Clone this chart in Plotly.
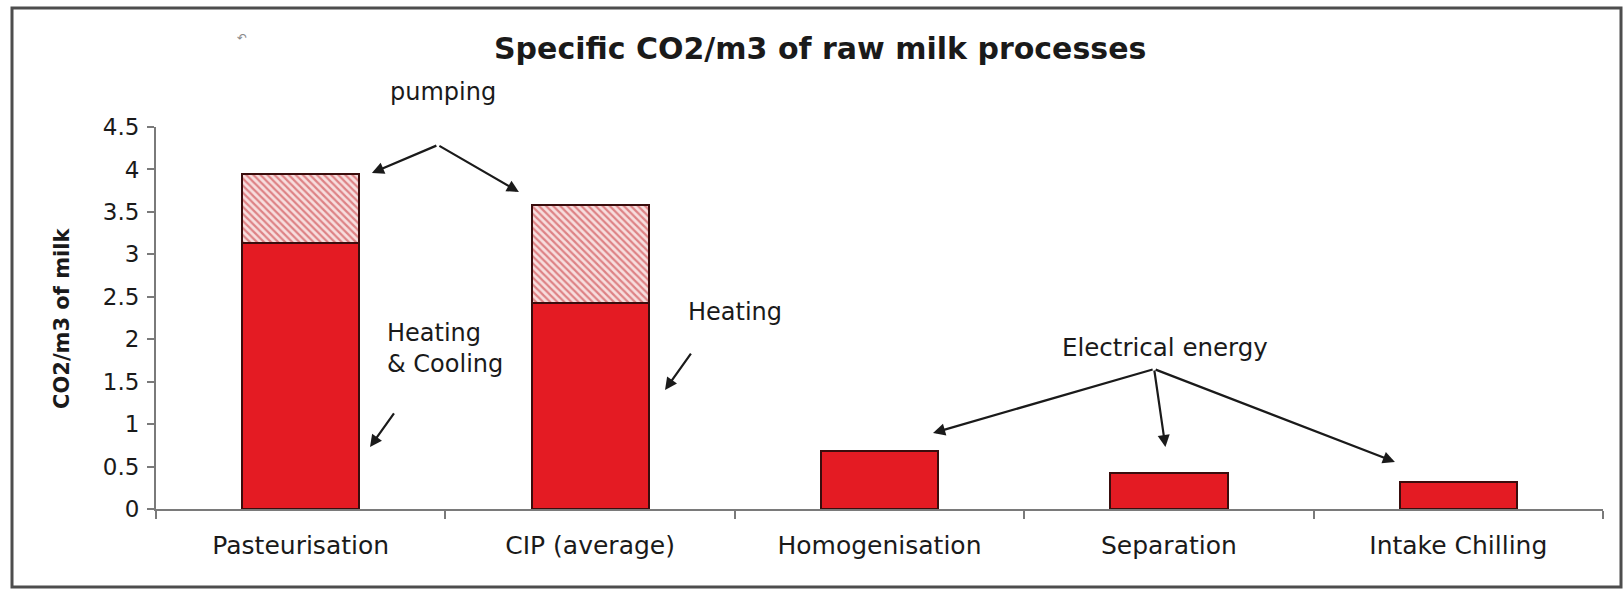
import plotly.graph_objects as go

# Process categories and their specific CO2 emissions (per m3 of raw milk)
categories = ["Pasteurisation", "CIP (average)", "Homogenisation", "Separation", "Intake Chilling"]
process_energy = [3.13, 2.43, 0.68, 0.43, 0.32]   # heating/cooling or electrical share
pumping = [0.82, 1.15, None, None, None]          # pumping share (hatched)
y_ticks = [0, 0.5, 1, 1.5, 2, 2.5, 3, 3.5, 4, 4.5]

FONT = "DejaVu Sans"
TXT = "#1a1a1a"
AXIS = "#7a7a7a"
RED = "#e41b23"
EDGE = "#3a0d0d"

fig = go.Figure()

fig.add_trace(go.Bar(
    x=categories, y=process_energy, name="Process energy",
    marker=dict(color=RED, line=dict(color=EDGE, width=2)),
))
fig.add_trace(go.Bar(
    x=categories, y=pumping, name="pumping",
    marker=dict(
        color="white",
        line=dict(color=EDGE, width=2),
        pattern=dict(shape="\\", fgcolor="#c4262c", bgcolor="#f7dede", size=5, solidity=0.45),
    ),
))

# Plot-area geometry helpers (category axis: one unit per category)
L, R, T, B = 156, 21, 127, 83
W, H = 1624, 592
PW, PH = W - L - R, H - T - B


def px_x(px):
    return (px - L) / PW


def px_y(py):
    return (H - B - py) / PH


annotations = [
    dict(text="Specific CO2/m3 of raw milk processes", xref="paper", yref="paper",
         x=px_x(820), y=px_y(48), xanchor="center", yanchor="middle", showarrow=False,
         font=dict(family=FONT, size=30, color=TXT, weight="bold")),
    dict(text="CO2/m3 of milk", xref="paper", yref="paper", x=px_x(62), y=0.5,
         xanchor="center", yanchor="middle", textangle=-90, showarrow=False,
         font=dict(family=FONT, size=21, color=TXT, weight="bold")),
    dict(text="\u21b6", xref="paper", yref="paper", x=px_x(235), y=px_y(29),
         showarrow=False, font=dict(family=FONT, size=12, color="#888888")),
    dict(text="pumping", xref="paper", yref="paper", x=px_x(443), y=px_y(92), xanchor="center",
         yanchor="middle", showarrow=False, font=dict(family=FONT, size=24, color=TXT)),
    dict(text="Heating<br>& Cooling", xref="x", yref="y", x=0.291, y=1.885, xanchor="left",
         yanchor="middle", align="left", showarrow=False,
         font=dict(family=FONT, size=24, color=TXT)),
    dict(text="Heating", xref="x", yref="y", x=1.331, y=2.321, xanchor="left",
         yanchor="middle", showarrow=False, font=dict(family=FONT, size=24, color=TXT)),
    dict(text="Electrical energy", xref="x", yref="y", x=2.985, y=1.897, xanchor="center",
         yanchor="middle", showarrow=False, font=dict(family=FONT, size=24.5, color=TXT)),
]

# Pointer arrows: (tail_x, tail_y, tip_x, tip_y) in axis units
arrows = [
    (0.474, 4.288, 0.246, 3.958),
    (0.474, 4.288, 0.754, 3.734),
    (0.326, 1.143, 0.2395, 0.730),
    (1.352, 1.849, 1.259, 1.402),
    (2.949, 1.649, 2.185, 0.895),
    (2.949, 1.649, 2.988, 0.730),
    (2.949, 1.649, 3.781, 0.554),
]
for ax_, ay_, x_, y_ in arrows:
    annotations.append(dict(
        text="", xref="x", yref="y", axref="x", ayref="y",
        x=x_, y=y_, ax=ax_, ay=ay_, showarrow=True,
        arrowhead=2, arrowsize=1.1, arrowwidth=2.2, arrowcolor="#1a1a1a", standoff=0,
    ))

fig.update_layout(
    width=W, height=H, autosize=False,
    margin=dict(l=L, r=R, t=T, b=B, pad=0),
    paper_bgcolor="white", plot_bgcolor="white",
    barmode="stack", bargap=0.595,
    showlegend=False,
    font=dict(family=FONT, color=TXT),
    annotations=annotations,
    shapes=[dict(type="rect", xref="paper", yref="paper",
                 x0=px_x(12), x1=px_x(1621), y0=px_y(587), y1=px_y(8),
                 line=dict(color="#4d4d4d", width=3), fillcolor="rgba(0,0,0,0)", layer="below")],
)

fig.update_xaxes(
    type="category", range=[-0.5, 4.5], showline=True, linecolor=AXIS, linewidth=2,
    ticks="outside", tickson="boundaries", ticklen=8, tickwidth=2, tickcolor=AXIS,
    ticklabelstandoff=13,
    showgrid=False, zeroline=False, tickfont=dict(family=FONT, size=25, color=TXT),
)
fig.update_yaxes(
    range=[0, 4.5], tickvals=y_ticks, ticktext=[f"{v:g}" for v in y_ticks],
    showline=True, linecolor=AXIS, linewidth=2,
    ticks="outside", ticklen=7, tickwidth=2, tickcolor=AXIS, ticklabelstandoff=3,
    showgrid=False, zeroline=False, tickfont=dict(family=FONT, size=23, color=TXT),
)

fig.write_html("out.html")
